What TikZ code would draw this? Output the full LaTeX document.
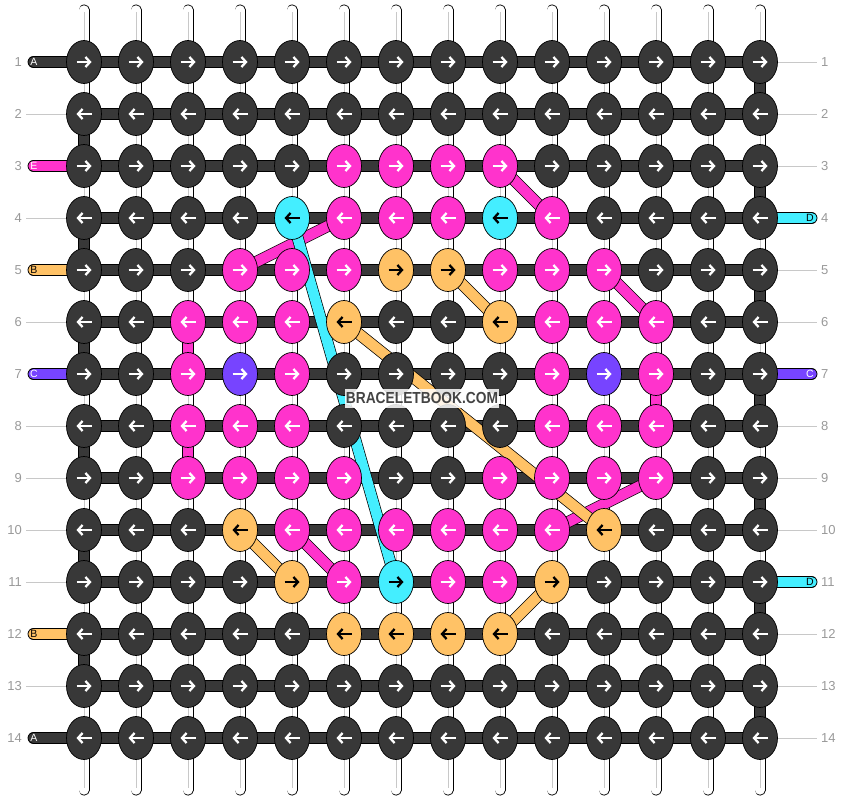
\documentclass[tikz,border=0pt]{standalone}
\usepackage{fontspec}
\setmainfont{Liberation Sans}
\usetikzlibrary{shapes.geometric,arrows.meta}
\definecolor{kA}{HTML}{383838}
\definecolor{kB}{HTML}{FFC266}
\definecolor{kC}{HTML}{7744FF}
\definecolor{kD}{HTML}{44EEFF}
\definecolor{kE}{HTML}{FF33CC}
\colorlet{aA}{white}
\colorlet{aB}{black}
\colorlet{aC}{white}
\colorlet{aD}{black}
\colorlet{aE}{white}
\definecolor{rulegray}{HTML}{C8C8C8}
\definecolor{numgray}{HTML}{999999}
\definecolor{markgray}{HTML}{444444}
\tikzset{
	thread/.style={draw=black, line width=0.7pt, double=#1, double distance=10.4pt},
	warp/.style={draw=black, line width=0.8pt, double=white, double distance=9.4pt, line cap=round},
	knot/.style={ellipse, draw=black, line width=0.7pt, fill=k#1, minimum width=35pt, minimum height=43pt, inner sep=0pt},
	knotarrow/.style={a#1, line width=2.3pt, -{Straight Barb[length=4.5pt, width=10pt]}},
	rownum/.style={text=numgray, font=\fontsize{13}{13}\selectfont, inner sep=0pt},
	tailtag/.style={font=\fontsize{10.5}{10.5}\selectfont, inner sep=0pt}
}
\begin{document}
\begin{tikzpicture}[x=1pt, y=-1pt]
	\useasboundingbox (0,0) rectangle (844,800);
	\foreach \r in {1,...,14}
		\foreach \c in {1,...,14}
			\coordinate (p-\r-\c) at ({32+52*\c}, {10+52*\r});
	\foreach \c in {1,...,14} {
		\coordinate (top-\c) at ({32+52*\c}, 10);
		\coordinate (bot-\c) at ({32+52*\c}, 790);
		\draw[warp] (top-\c) -- (bot-\c);
		\draw[rulegray, line width=0.8pt] ([yshift=-2pt]top-\c) -- ([yshift=2pt]bot-\c);
	}
	\foreach \r in {1,...,14}
		\draw[thread=kA] (p-\r-1) -- (p-\r-14);
	\foreach \r [evaluate=\r as \s using int(\r+1)] in {1,3,...,13}
		\draw[thread=kA] (p-\r-14) -- (p-\s-14);
	\foreach \r [evaluate=\r as \s using int(\r+1)] in {2,4,...,12}
		\draw[thread=kA] (p-\r-1) -- (p-\s-1);
	\foreach \r in {2,4,6,8,9,10,11,13} {
		\coordinate (gl-\r) at (26, {10+52*\r});
		\draw[rulegray, line width=0.9pt] (gl-\r) -- (p-\r-1);
	}
	\foreach \r in {1,2,3,5,6,8,9,10,12,13,14} {
		\coordinate (gr-\r) at (817, {10+52*\r});
		\draw[rulegray, line width=0.9pt] (p-\r-14) -- (gr-\r);
	}
	\foreach \r/\t in {1/A,3/E,5/B,7/C,12/B,14/A} {
		\coordinate (tl-\r) at (33.5, {10+52*\r});
		\draw[thread=k\t, line cap=round] (tl-\r) -- (p-\r-1);
		\node[tailtag, text=a\t] (tagl-\r) at (34, {10+52*\r}) {\t};
	}
	\foreach \r/\t in {4/D,7/C,11/D} {
		\coordinate (tr-\r) at (811.5, {10+52*\r});
		\draw[thread=k\t, line cap=round] (p-\r-14) -- (tr-\r);
		\node[tailtag, text=a\t] (tagr-\r) at (810, {10+52*\r}) {\t};
	}
	\foreach \r in {1,...,14} {
		\node[rownum, anchor=east] (nl-\r) at (22, {10+52*\r}) {\r};
		\node[rownum, anchor=west] (nr-\r) at (821, {10+52*\r}) {\r};
	}
	\foreach \a/\b in {3-9/4-10, 4-6/5-4, 5-11/6-12, 9-12/10-10, 10-5/11-6, 6-3/7-3, 8-3/9-3, 7-12/8-12}
		\draw[thread=kE] (p-\a) -- (p-\b);
	\foreach \a/\b in {5-8/6-9, 6-6/10-11, 10-4/11-5, 11-10/12-9}
		\draw[thread=kB] (p-\a) -- (p-\b);
	\draw[thread=kD] (p-4-5) -- (p-11-7);
	\foreach \r/\d/\row in {
		1/1/{A,A,A,A,A,A,A,A,A,A,A,A,A,A},
		2/-1/{A,A,A,A,A,A,A,A,A,A,A,A,A,A},
		3/1/{A,A,A,A,A,E,E,E,E,A,A,A,A,A},
		4/-1/{A,A,A,A,D,E,E,E,D,E,A,A,A,A},
		5/1/{A,A,A,E,E,E,B,B,E,E,E,A,A,A},
		6/-1/{A,A,E,E,E,B,A,A,B,E,E,E,A,A},
		7/1/{A,A,E,C,E,A,A,A,A,E,C,E,A,A},
		8/-1/{A,A,E,E,E,A,A,A,A,E,E,E,A,A},
		9/1/{A,A,E,E,E,E,A,A,E,E,E,E,A,A},
		10/-1/{A,A,A,B,E,E,E,E,E,E,B,A,A,A},
		11/1/{A,A,A,A,B,E,D,E,E,B,A,A,A,A},
		12/-1/{A,A,A,A,A,B,B,B,B,A,A,A,A,A},
		13/1/{A,A,A,A,A,A,A,A,A,A,A,A,A,A},
		14/-1/{A,A,A,A,A,A,A,A,A,A,A,A,A,A}}
		\foreach \k [count=\c] in \row {
			\node[knot=\k] (k-\r-\c) at (p-\r-\c) {};
			\draw[knotarrow=\k] ([xshift=-7.5*\d]k-\r-\c.center) -- ([xshift=7.5*\d]k-\r-\c.center);
		}
	\node[fill=white, fill opacity=0.85, text opacity=1, text=markgray, font=\fontsize{16}{16}\selectfont\bfseries, inner xsep=0.5pt, minimum height=19pt] (watermark) at (422,398) {\scalebox{0.86}[1]{BRACELETBOOK.COM}};
\end{tikzpicture}
\end{document}
